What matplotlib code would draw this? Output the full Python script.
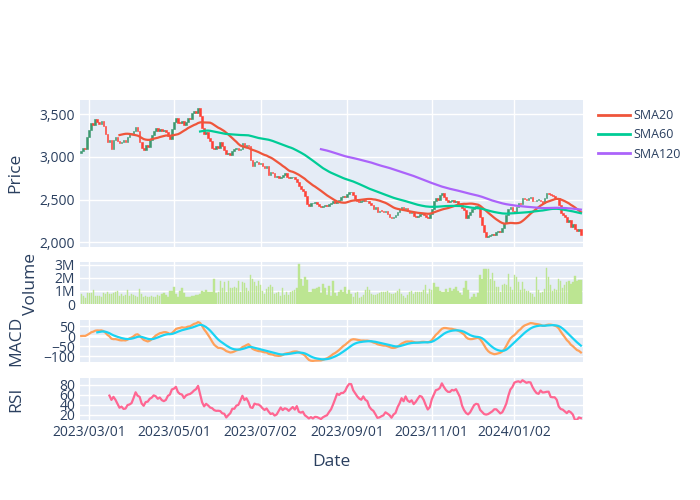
import numpy as np
import pandas as pd
import matplotlib
matplotlib.use("Agg")
import matplotlib.pyplot as plt
from matplotlib.lines import Line2D
from matplotlib.ticker import FuncFormatter

plt.rcParams['font.family'] = ['Open Sans', 'DejaVu Sans']

# trading calendar (weekends and market holidays are skipped on the axis)
holidays = ["2023-04-07", "2023-05-29", "2023-06-19", "2023-07-04", "2023-09-04",
            "2023-11-23", "2023-12-25", "2024-01-01", "2024-01-15", "2024-02-19"]
dates = pd.bdate_range("2023-02-23", "2024-02-20", freq="C", holidays=holidays)

first_open = 3050

close = [
    3070, 3100, 3090, 3230, 3320, 3400, 3380, 3450, 3410, 3390,
    3420, 3360, 3264, 3180, 3200, 3095, 3200, 3230, 3190, 3165,
    3180, 3200, 3175, 3240, 3284, 3270, 3310, 3355, 3300, 3170,
    3110, 3086, 3135, 3120, 3205, 3260, 3300, 3335, 3310, 3330,
    3300, 3320, 3295, 3250, 3213, 3330, 3410, 3460, 3400, 3395,
    3420, 3375, 3410, 3460, 3440, 3510, 3540, 3520, 3580, 3480,
    3340, 3270, 3290, 3225, 3185, 3110, 3090, 3125, 3110, 3173,
    3130, 3080, 3030, 3050, 3027, 3070, 3090, 3106, 3085, 3095,
    3165, 3120, 3140, 3134, 2960, 2890, 2940, 2945, 2920, 2935,
    2900, 2875, 2890, 2791, 2820, 2810, 2760, 2775, 2752, 2765,
    2785, 2810, 2770, 2752, 2760, 2768, 2740, 2712, 2660, 2625,
    2600, 2540, 2450, 2420, 2455, 2465, 2475, 2445, 2430, 2416,
    2430, 2436, 2425, 2445, 2463, 2480, 2455, 2480, 2500, 2534,
    2545, 2530, 2570, 2585, 2594, 2550, 2510, 2490, 2478, 2480,
    2495, 2480, 2485, 2460, 2440, 2396, 2410, 2360, 2372, 2370,
    2357, 2370, 2330, 2298, 2280, 2300, 2318, 2360, 2390, 2416,
    2390, 2400, 2362, 2340, 2350, 2305, 2300, 2310, 2328, 2338,
    2315, 2298, 2285, 2330, 2396, 2480, 2515, 2500, 2555, 2574,
    2530, 2495, 2478, 2485, 2495, 2470, 2480, 2450, 2436, 2400,
    2377, 2280, 2320, 2360, 2385, 2410, 2416, 2416, 2300, 2200,
    2125, 2065, 2070, 2082, 2095, 2080, 2120, 2130, 2125, 2165,
    2230, 2320, 2396, 2410, 2370, 2360, 2416, 2460, 2450, 2520,
    2510, 2495, 2515, 2534, 2490, 2480, 2495, 2495, 2490, 2460,
    2520, 2574, 2565, 2554, 2540, 2525, 2515, 2440, 2340, 2315,
    2300, 2240, 2265, 2185, 2215, 2160, 2130, 2160, 2090,
]

# volume in millions of shares
volume_m = [
    0.74, 0.64, 0.44, 0.82, 0.82, 0.85, 1.08, 0.62, 0.62, 0.62,
    0.56, 0.82, 0.80, 0.90, 0.80, 0.74, 0.82, 0.95, 1.00, 0.64,
    0.74, 0.59, 0.70, 1.08, 0.64, 0.74, 0.70, 0.64, 0.56, 1.13,
    0.74, 0.56, 0.62, 0.56, 0.51, 0.64, 0.54, 0.51, 0.70, 0.62,
    0.80, 0.87, 0.70, 0.56, 1.00, 1.00, 1.31, 0.74, 0.56, 1.00,
    1.20, 0.82, 0.56, 0.56, 0.54, 0.59, 0.64, 0.70, 0.70, 0.74,
    1.00, 0.90, 1.10, 0.90, 0.95, 0.90, 1.90, 0.82, 0.95, 1.77,
    1.20, 1.67, 0.95, 1.72, 1.20, 1.20, 1.28, 1.20, 1.77, 0.90,
    1.67, 1.60, 1.20, 1.00, 2.18, 1.90, 1.64, 1.38, 1.72, 1.46,
    1.00, 0.74, 1.15, 1.33, 1.46, 1.33, 0.74, 0.82, 0.90, 0.64,
    1.20, 0.70, 0.90, 0.70, 0.90, 1.00, 1.08, 1.20, 3.05, 1.90,
    1.38, 2.03, 1.80, 0.95, 0.95, 1.13, 1.13, 1.20, 1.28, 0.82,
    1.54, 1.20, 0.70, 1.38, 0.64, 1.72, 0.82, 0.64, 0.95, 1.05,
    0.95, 1.26, 0.74, 1.05, 0.74, 0.56, 0.87, 0.90, 0.49, 0.56,
    0.70, 1.08, 1.26, 1.08, 0.74, 0.70, 0.70, 0.74, 0.87, 0.90,
    0.90, 0.90, 1.00, 0.82, 0.74, 0.74, 0.82, 1.00, 1.13, 0.74,
    0.64, 0.49, 0.70, 0.95, 1.00, 0.74, 0.95, 0.95, 0.90, 0.95,
    1.08, 1.46, 0.74, 1.13, 1.08, 1.60, 1.33, 1.33, 1.00, 0.95,
    0.90, 1.13, 0.95, 1.20, 1.00, 1.15, 1.33, 1.00, 0.82, 0.70,
    1.20, 1.77, 1.08, 0.38, 0.56, 0.74, 0.56, 0.82, 2.23, 1.92,
    2.70, 2.70, 2.70, 1.92, 2.36, 1.72, 1.33, 1.33, 0.90, 1.41,
    1.51, 1.46, 2.28, 1.33, 1.08, 2.23, 2.03, 1.67, 1.08, 1.64,
    1.13, 1.00, 1.00, 0.82, 0.77, 0.56, 2.03, 1.08, 0.82, 0.90,
    1.13, 2.74, 2.03, 1.41, 1.00, 1.13, 1.08, 1.92, 1.72, 1.20,
    1.46, 1.67, 1.77, 1.51, 1.67, 2.10, 1.72, 1.80, 1.80,
]

tick_labels = ["2023/03/01", "2023/05/01", "2023/07/02", "2023/09/01", "2023/11/01", "2024/01/02"]

df = pd.DataFrame({"Close": close, "Volume": np.array(volume_m) * 1e6}, index=dates)
df["Open"] = df["Close"].shift(1).fillna(first_open)

# indicators
df["SMA20"] = df["Close"].rolling(20).mean()
df["SMA60"] = df["Close"].rolling(60).mean()
df["SMA120"] = df["Close"].rolling(120).mean()
ema12 = df["Close"].ewm(span=12).mean()
ema26 = df["Close"].ewm(span=26).mean()
df["MACD"] = ema12 - ema26
df["Signal"] = df["MACD"].ewm(span=9, min_periods=9).mean()
delta = df["Close"].diff()
gain = delta.clip(lower=0).rolling(14).mean()
loss = (-delta.clip(upper=0)).rolling(14).mean()
df["RSI"] = 100 - 100 / (1 + gain / loss)

x = np.arange(len(df))
tick_pos = [dates.searchsorted(pd.Timestamp(t.replace("/", "-"))) for t in tick_labels]

BG = "#E5ECF6"
FG = "#2a3f5f"
W, H = 700, 500
TICK_FS = 10
TITLE_FS = 12.5

fig = plt.figure(figsize=(7, 5), dpi=100)


def panel(top, bottom):
    ax = fig.add_axes([80 / W, 1 - bottom / H, (582.5 - 80) / W, (bottom - top) / H])
    ax.set_facecolor(BG)
    for s in ax.spines.values():
        s.set_visible(False)
    ax.grid(True, color="white", linewidth=1)
    ax.set_axisbelow(True)
    ax.tick_params(length=0, labelsize=TICK_FS, colors=FG, pad=3.5)
    ax.set_xlim(-0.6, 248.8)
    ax.set_xticks(tick_pos)
    ax.set_xticklabels([])
    return ax


ax1 = panel(100, 247)
ax2 = panel(262, 304)
ax3 = panel(320, 361.7)
ax4 = panel(378, 420)

# candles
up = df["Close"] >= df["Open"]
body_lo = np.minimum(df["Open"], df["Close"])
body_h = np.maximum((df["Close"] - df["Open"]).abs(), 10)
cols = np.where(up, "#3D9970", "#FF4136")
ax1.bar(x, body_h, bottom=body_lo, width=0.85, color=cols, edgecolor=cols,
        linewidth=0.4, zorder=2)
ax1.plot(x, df["SMA20"], color="#EF553B", lw=1.6, zorder=3)
ax1.plot(x, df["SMA60"], color="#00CC96", lw=1.6, zorder=3)
ax1.plot(x, df["SMA120"], color="#AB63FA", lw=1.6, zorder=3)
ax1.set_ylim(1945, 3668)
ax1.set_yticks([2000, 2500, 3000, 3500])
ax1.yaxis.set_major_formatter(FuncFormatter(lambda v, p: f"{v:,.0f}"))

# volume
ax2.bar(x, df["Volume"], width=0.7, color="#BCE592", edgecolor="#BCE592",
        linewidth=0.3, zorder=2)
ax2.set_ylim(0, 3.2e6)
ax2.set_yticks([0, 1e6, 2e6, 3e6])
ax2.set_yticklabels(["0", "1M", "2M", "3M"])

# MACD
ax3.plot(x, df["MACD"], color="#FFA15A", lw=1.6, zorder=3)
ax3.plot(x, df["Signal"], color="#19D3F3", lw=1.6, zorder=3)
ax3.axhline(0, color="white", lw=2, zorder=1)
ax3.set_ylim(-128, 80)
ax3.set_yticks([-100, -50, 0, 50])
ax3.set_yticklabels(["\u2212100", "\u221250", "0", "50"])

# RSI
ax4.plot(x, df["RSI"], color="#FF6692", lw=1.6, zorder=3)
ax4.set_ylim(10, 93)
ax4.set_yticks([20, 40, 60, 80])
ax4.set_xticklabels(tick_labels)

# axis titles
fig.text(15 / W, 1 - 173 / H, "Price", rotation=90, ha="center", va="center", fontsize=TITLE_FS, color=FG)
fig.text(31 / W, 1 - 284 / H, "Volume", rotation=90, ha="center", va="center", fontsize=TITLE_FS, color=FG)
fig.text(16 / W, 1 - 341 / H, "MACD", rotation=90, ha="center", va="center", fontsize=TITLE_FS, color=FG)
fig.text(16 / W, 1 - 399 / H, "RSI", rotation=90, ha="center", va="center", fontsize=TITLE_FS, color=FG)
fig.text(331 / W, 1 - 462 / H, "Date", ha="center", va="center", fontsize=TITLE_FS, color=FG)

handles = [Line2D([], [], color=c, lw=2) for c in ["#EF553B", "#00CC96", "#AB63FA"]]
fig.legend(handles, ["SMA20", "SMA60", "SMA120"], loc="upper left",
           bbox_to_anchor=(587 / W, 1 - 98 / H), frameon=False, fontsize=9,
           handlelength=2.5, handletextpad=0.35, labelspacing=0.5, labelcolor=FG)

fig.savefig("out.png", dpi=100, facecolor="white")
